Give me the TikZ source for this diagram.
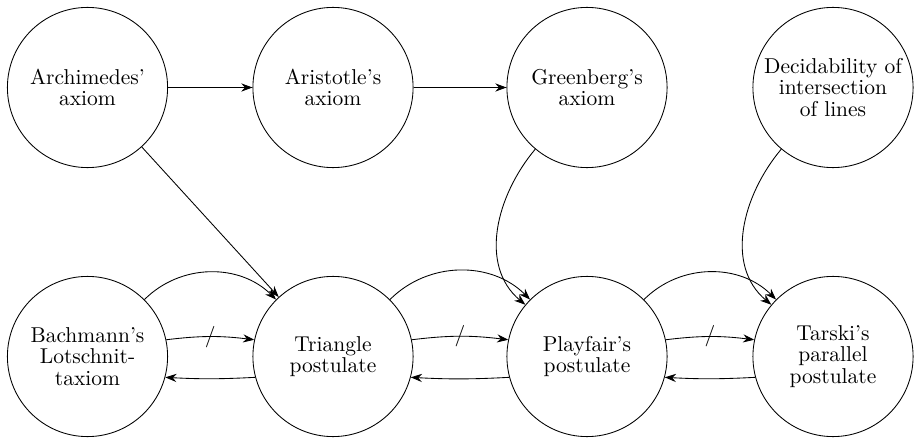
\documentclass[tikz,border=0pt]{standalone}
\usetikzlibrary{arrows.meta}
\begin{document}
\begin{tikzpicture}[x=0.4651pt,y=-0.4651pt,
  st/.style={circle,draw,minimum size=74.5pt,inner sep=0pt,align=center,font=\fontsize{10}{10}\selectfont},
  slash/.style={midway,inner sep=0pt,font=\fontsize{10}{12}\selectfont},
  >={Stealth[length=5.2pt,width=3.8pt]}, line width=0.4pt]
\useasboundingbox (0,0) rectangle (915,440);
\node[st] (arch) at (87.5,87.5) {Archimedes'\\axiom};
\node[st] (aris) at (333,87.5) {Aristotle's\\axiom};
\node[st] (gree) at (587,87.5) {Greenberg's\\axiom};
\node[st] (deci) at (833,87.5) {Decidability of\\intersection\\of lines};
\node[st] (bach) at (87.5,356.5) {Bachmann's\\Lotschnit-\\taxiom};
\node[st] (tri) at (333,356.5) {Triangle\\postulate};
\node[st] (play) at (587,356.5) {Playfair's\\postulate};
\node[st] (tars) at (833,356.5) {Tarski's\\parallel\\postulate};
\draw[->] (arch) -- (aris);
\draw[->] (aris) -- (gree);
\draw[->] (arch) -- (tri);
\draw[->] (gree) to[out=-130,in=140] (play);
\draw[->] (deci) to[out=-130,in=140] (tars);
\draw[->] (bach) to[bend left=45] (tri);
\draw[->] (tri) to[bend left=45] (play);
\draw[->] (play) to[bend left=45] (tars);
\draw[->] (bach.12) to[bend left=7] node[slash]{/} (tri.168);
\draw[->] (tri.-165) to[bend left=3] (bach.-15);
\draw[->] (tri.12) to[bend left=7] node[slash]{/} (play.168);
\draw[->] (play.-165) to[bend left=3] (tri.-15);
\draw[->] (play.12) to[bend left=7] node[slash]{/} (tars.168);
\draw[->] (tars.-165) to[bend left=3] (play.-15);
\end{tikzpicture}
\end{document}
